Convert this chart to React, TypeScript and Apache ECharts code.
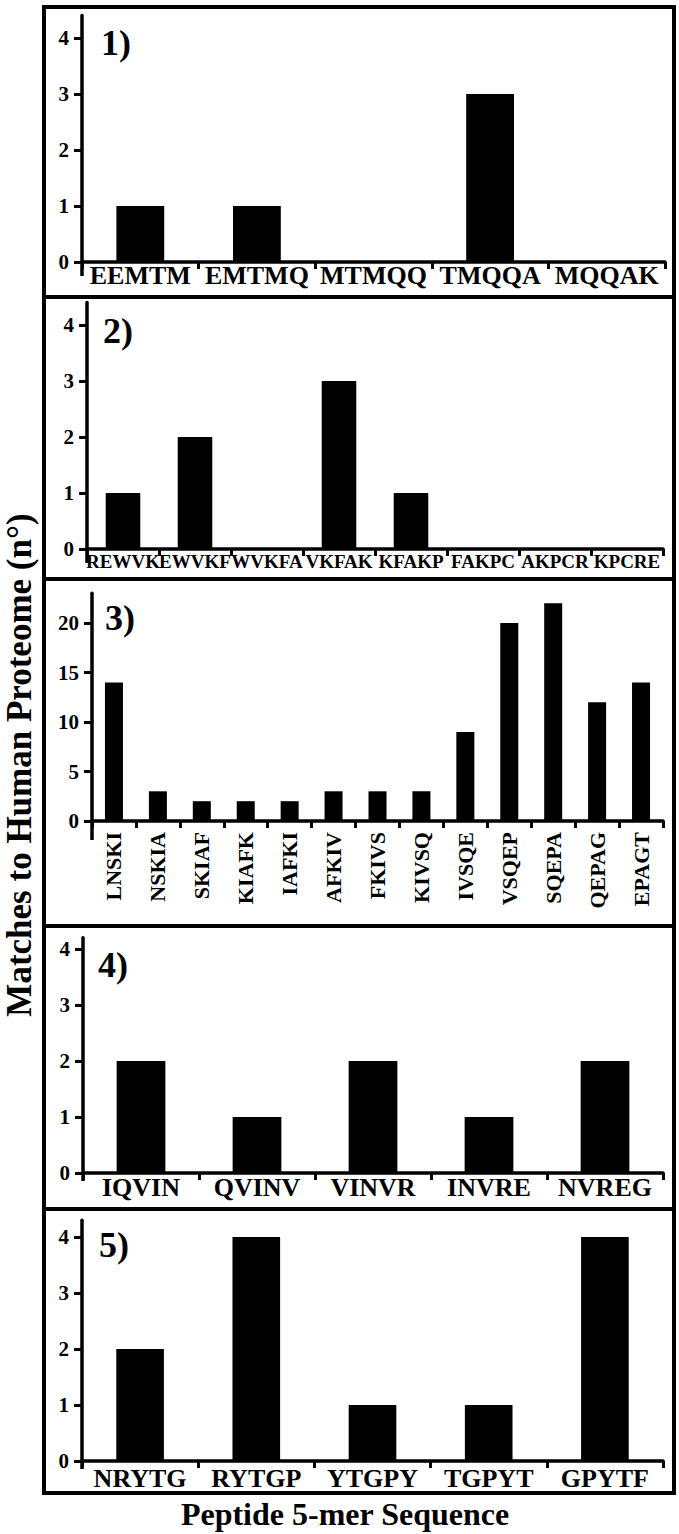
import React, { useEffect, useRef } from "react";
import * as echarts from "echarts";

const cats1 = ["EEMTM", "EMTMQ", "MTMQQ", "TMQQA", "MQQAK"];
const vals1 = [1, 1, 0, 3, 0];
const cats2 = ["REWVK", "EWVKF", "WVKFA", "VKFAK", "KFAKP", "FAKPC", "AKPCR", "KPCRE"];
const vals2 = [1, 2, 0, 3, 1, 0, 0, 0];
const cats3 = ["LNSKI", "NSKIA", "SKIAF", "KIAFK", "IAFKI", "AFKIV", "FKIVS", "KIVSQ", "IVSQE", "VSQEP", "SQEPA", "QEPAG", "EPAGT"];
const vals3 = [14, 3, 2, 2, 2, 3, 3, 3, 9, 20, 22, 12, 14];
const cats4 = ["IQVIN", "QVINV", "VINVR", "INVRE", "NVREG"];
const vals4 = [2, 1, 2, 1, 2];
const cats5 = ["NRYTG", "RYTGP", "YTGPY", "TGPYT", "GPYTF"];
const vals5 = [2, 4, 1, 1, 4];

const ticksSmall = [0, 1, 2, 3, 4];
const ticksBig = [0, 5, 10, 15, 20];
const panelLabels = ["1)", "2)", "3)", "4)", "5)"];
const yTitle = "Matches to Human Proteome (n°)";
const xTitle = "Peptide 5-mer Sequence";

const FONT = "'Liberation Serif', 'Times New Roman', serif";

export default function App() {
  const ref = useRef<HTMLDivElement>(null);
  useEffect(() => {
    if (!ref.current) return;
    const chart = echarts.init(ref.current, undefined, { renderer: "svg" });

    const panels = [
      { cats: cats1, vals: vals1, left: 82, width: 583, zero: 262, ppu: 56, max: 4.4, ext: 14, ticks: ticksSmall, fs: 26, margin: 0, rotate: 0, bw: "41%" },
      { cats: cats2, vals: vals2, left: 87, width: 576, zero: 549, ppu: 56, max: 4.4, ext: 14, ticks: ticksSmall, fs: 19, margin: 3, rotate: 0, bw: "48%" },
      { cats: cats3, vals: vals3, left: 92, width: 571, zero: 821, ppu: 9.9, max: 23, ext: 19, ticks: ticksBig, fs: 22, margin: 11, rotate: 90, bw: "41%" },
      { cats: cats4, vals: vals4, left: 83, width: 580, zero: 1173, ppu: 56, max: 4.2, ext: 8, ticks: ticksSmall, fs: 26, margin: 1, rotate: 0, bw: "42%" },
      { cats: cats5, vals: vals5, left: 82, width: 581, zero: 1461, ppu: 56, max: 4.3, ext: 8, ticks: ticksSmall, fs: 26, margin: 4, rotate: 0, bw: "41%" },
    ];

    const grid = panels.map((p) => ({
      left: p.left,
      width: p.width,
      top: p.zero - p.max * p.ppu,
      height: p.max * p.ppu,
      containLabel: false,
      outerBoundsMode: "none",
    }));

    const xAxis = panels.map((p, i) => ({
      type: "category",
      gridIndex: i,
      data: p.cats,
      boundaryGap: true,
      axisLine: { show: true, lineStyle: { color: "#000", width: 3.5 } },
      axisTick: { show: true, inside: false, length: 7, alignWithLabel: false, lineStyle: { color: "#000", width: 3 } },
      axisLabel: {
        interval: 0,
        rotate: p.rotate,
        margin: p.margin,
        color: "#000",
        fontFamily: FONT,
        fontWeight: "bold",
        fontSize: p.fs,
        hideOverlap: false,
      },
      splitLine: { show: false },
    }));

    const yAxis = panels.map((p, i) => ({
      type: "value",
      gridIndex: i,
      min: 0,
      max: p.max,
      axisLine: { show: true, lineStyle: { color: "#000", width: 3.5 } },
      axisTick: { show: true, length: 8, customValues: p.ticks, lineStyle: { color: "#000", width: 3 } },
      axisLabel: {
        customValues: p.ticks,
        margin: 13,
        color: "#000",
        fontFamily: FONT,
        fontWeight: "bold",
        fontSize: 21,
      },
      splitLine: { show: false },
    }));

    const series = panels.map((p, i) => ({
      type: "bar",
      xAxisIndex: i,
      yAxisIndex: i,
      data: p.vals,
      barWidth: p.bw,
      itemStyle: { color: "#000" },
      silent: true,
    }));

    const borders = [7, 297, 579, 926, 1209, 1493];
    const graphic: any[] = [];
    for (let i = 0; i < 5; i++) {
      graphic.push({
        type: "rect",
        shape: { x: 44, y: borders[i], width: 630, height: borders[i + 1] - borders[i] },
        style: { fill: "none", stroke: "#000", lineWidth: 4 },
        silent: true,
      });
    }
    // y-axis line continues a little below the x axis
    panels.forEach((p) => {
      graphic.push({
        type: "line",
        shape: { x1: p.left, y1: p.zero, x2: p.left, y2: p.zero + p.ext },
        style: { stroke: "#000", lineWidth: 3.5 },
        silent: true,
      });
    });
    const labelPos = [
      [101, 43],
      [103, 331],
      [105, 618],
      [98, 965],
      [99, 1245],
    ];
    panelLabels.forEach((t, i) => {
      graphic.push({
        type: "text",
        x: labelPos[i][0],
        y: labelPos[i][1],
        style: {
          text: t,
          font: `bold 36px ${FONT}`,
          fill: "#000",
          align: "left",
          verticalAlign: "middle",
          textAlign: "left",
          textVerticalAlign: "middle",
        },
        silent: true,
      });
    });
    graphic.push({
      type: "text",
      x: 19,
      y: 765,
      rotation: Math.PI / 2,
      style: {
        text: yTitle,
        font: `bold 35px ${FONT}`,
        fill: "#000",
        align: "center",
        verticalAlign: "middle",
        textAlign: "center",
        textVerticalAlign: "middle",
      },
      silent: true,
    });
    graphic.push({
      type: "text",
      x: 345,
      y: 1514,
      style: {
        text: xTitle,
        font: `bold 32px ${FONT}`,
        fill: "#000",
        align: "center",
        verticalAlign: "middle",
        textAlign: "center",
        textVerticalAlign: "middle",
      },
      silent: true,
    });

    chart.setOption({
      animation: false,
      backgroundColor: "#fff",
      grid,
      xAxis,
      yAxis,
      series,
      graphic,
    } as any);

    return () => chart.dispose();
  }, []);

  return (
    <div
      ref={ref}
      style={{ position: "absolute", left: 0, top: 0, width: 679, height: 1534, background: "#fff" }}
    />
  );
}
